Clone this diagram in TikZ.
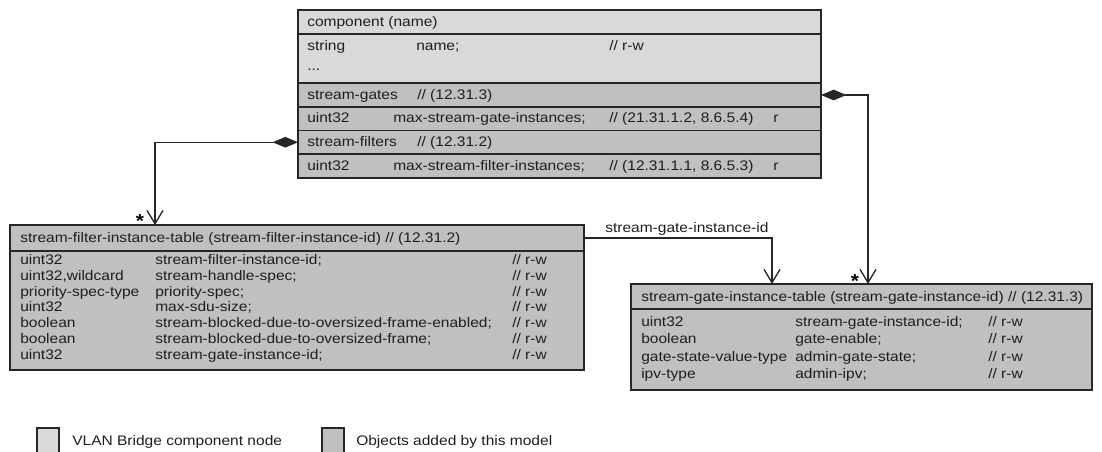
\documentclass[tikz,border=0pt]{standalone}
\usepackage{fontspec}
\setmainfont{Liberation Sans}[FakeStretch=1.12]
\usetikzlibrary{arrows.meta}
\definecolor{lightg}{HTML}{D9D9D9}
\definecolor{darkg}{HTML}{C0C0C0}
\definecolor{linec}{HTML}{262626}
\definecolor{txtc}{HTML}{1E1E1E}
\begin{document}
\begin{tikzpicture}[x=0.75pt,y=-0.75pt,
  font=\fontsize{10.4}{12}\selectfont,
  box/.style={draw=linec, line width=1.1pt, anchor=north west, inner sep=0, outer sep=0},
  lbox/.style={box, fill=lightg},
  dbox/.style={box, fill=darkg},
  txt/.style={anchor=base west, inner sep=0, text=txtc},
  star/.style={anchor=base, inner sep=0, font=\fontsize{14}{14}\selectfont\bfseries},
  conn/.style={draw=linec, line width=1pt},
  dia/.style={{Diamond[length=19pt,width=8pt]}-{Straight Barb[length=10pt,width=12pt]}},
  opn/.style={-{Straight Barb[length=10pt,width=12pt]}}]
\useasboundingbox (0,0) rectangle (1102,451);
\clip (0,0) rectangle (1102,451);

% ---------- component box ----------
\node[lbox, minimum width=523*0.75pt, minimum height=24*0.75pt] (comphead) at (298,10) {};
\node[lbox, minimum width=523*0.75pt, minimum height=49*0.75pt] (compattr) at (298,34) {};
\node[dbox, minimum width=523*0.75pt, minimum height=24*0.75pt] (gates) at (298,83) {};
\node[dbox, minimum width=523*0.75pt, minimum height=23.5*0.75pt] (gatesmax) at (298,107) {};
\node[dbox, minimum width=523*0.75pt, minimum height=23.5*0.75pt] (filters) at (298,130.5) {};
\node[dbox, minimum width=523*0.75pt, minimum height=24*0.75pt] (filtersmax) at (298,154) {};

\node[txt] (c0) at (307,26) {component (name)};
\node[txt] (c1a) at (307,50) {string};
\node[txt] (c1b) at (416,50) {name;};
\node[txt] (c1c) at (609,50) {// r-w};
\node[txt] (c2) at (307,70) {...};
\node[txt] (c3a) at (307,99) {stream-gates};
\node[txt] (c3b) at (417,99) {// (12.31.3)};
\node[txt] (c4a) at (307,122.5) {uint32};
\node[txt] (c4b) at (393,122.5) {max-stream-gate-instances;};
\node[txt] (c4c) at (609,122.5) {// (21.31.1.2, 8.6.5.4)};
\node[txt] (c4d) at (773,122.5) {r};
\node[txt] (c5a) at (307,146) {stream-filters};
\node[txt] (c5b) at (417,146) {// (12.31.2)};
\node[txt] (c6a) at (307,170) {uint32};
\node[txt] (c6b) at (393,170) {max-stream-filter-instances;};
\node[txt] (c6c) at (609,170) {// (12.31.1.1, 8.6.5.3)};
\node[txt] (c6d) at (773,170) {r};

% ---------- stream filter instance table ----------
\node[dbox, minimum width=574*0.75pt, minimum height=26*0.75pt] (fhead) at (10,225) {};
\node[dbox, minimum width=574*0.75pt, minimum height=119*0.75pt] (fbody) at (10,251) {};
\node[txt] (f0) at (20,242) {stream-filter-instance-table (stream-filter-instance-id) // (12.31.2)};
\foreach \y/\a/\b [count=\i] in {
  264/uint32/stream-filter-instance-id;,
  280/{uint32,wildcard}/stream-handle-spec;,
  296/priority-spec-type/priority-spec;,
  311.5/uint32/max-sdu-size;,
  327.5/boolean/stream-blocked-due-to-oversized-frame-enabled;,
  343.5/boolean/stream-blocked-due-to-oversized-frame;,
  359/uint32/stream-gate-instance-id;} {
  \node[txt] (f\i a) at (20,\y) {\a};
  \node[txt] (f\i b) at (155,\y) {\b};
  \node[txt] (f\i c) at (512,\y) {// r-w};
}

% ---------- stream gate instance table ----------
\node[dbox, minimum width=461*0.75pt, minimum height=25*0.75pt] (ghead) at (631,284) {};
\node[dbox, minimum width=461*0.75pt, minimum height=81*0.75pt] (gbody) at (631,309) {};
\node[txt] (g0) at (641,301) {stream-gate-instance-table (stream-gate-instance-id) // (12.31.3)};
\foreach \y/\a/\b [count=\i] in {
  326/uint32/stream-gate-instance-id;,
  343.5/boolean/gate-enable;,
  361/gate-state-value-type/admin-gate-state;,
  378.5/ipv-type/admin-ipv;} {
  \node[txt] (g\i a) at (641,\y) {\a};
  \node[txt] (g\i b) at (795,\y) {\b};
  \node[txt] (g\i c) at (988,\y) {// r-w};
}

% ---------- connectors ----------
\coordinate (fin) at (155,225);
\coordinate (gin) at (868,284);
\coordinate (gid) at (772,284);
\draw[conn, dia] (gates.east |- 0,95) -| (gin);
\draw[conn, dia] (filters.west) -| (fin);
\draw[conn, opn] (fhead.east) -| (gid);
\node[txt] (lbl) at (605,232) {stream-gate-instance-id};
\node[star] (s1) at (140,227) {*};
\node[star] (s2) at (855,287) {*};

% ---------- legend ----------
\node[lbox, minimum width=22*0.75pt, minimum height=30*0.75pt] (leg1) at (37,428) {};
\node[txt] (leg1t) at (72,445.5) {VLAN Bridge component node};
\node[dbox, minimum width=22*0.75pt, minimum height=30*0.75pt] (leg2) at (322,428) {};
\node[txt] (leg2t) at (356,445.5) {Objects added by this model};
\end{tikzpicture}
\end{document}
